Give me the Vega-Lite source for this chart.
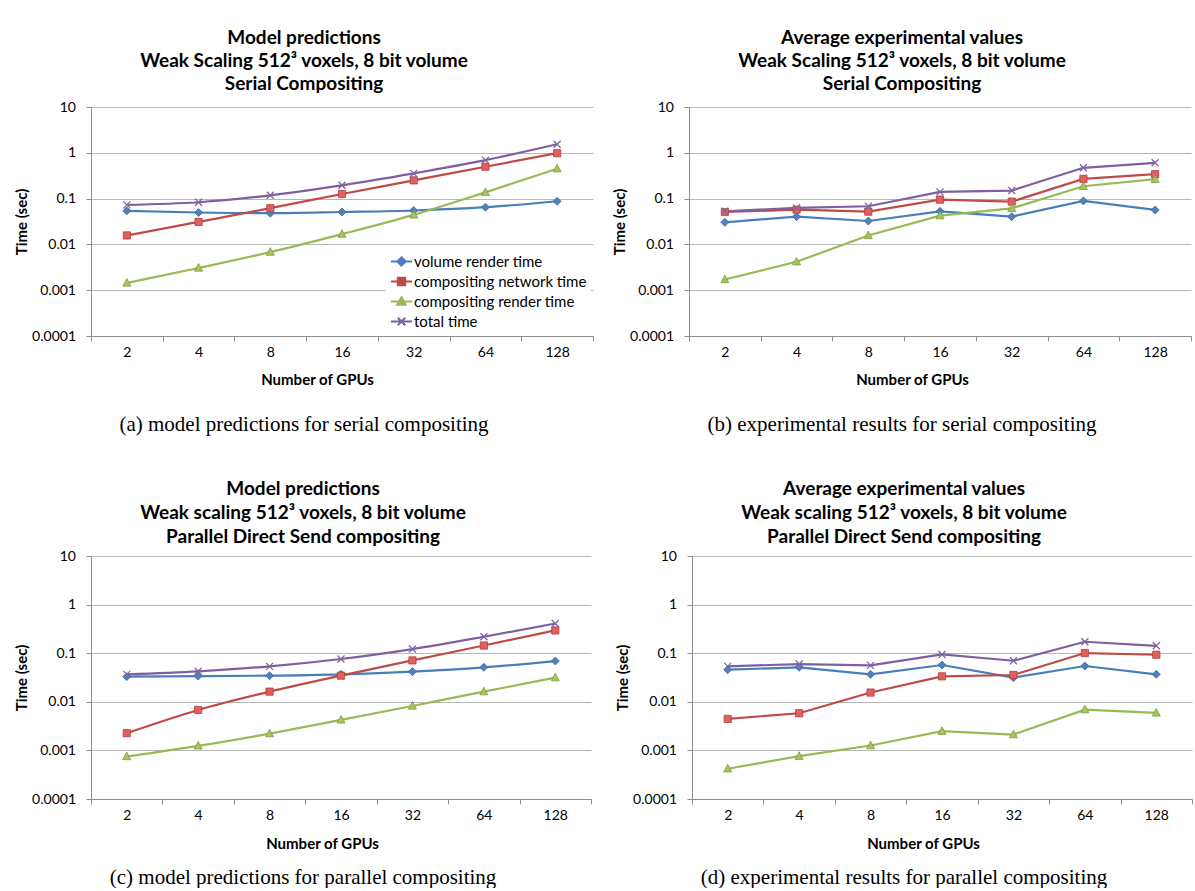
{
  "$schema": "https://vega.github.io/schema/vega-lite/v6.json",
  "padding": {"left": 14, "top": 29, "right": 0, "bottom": 0},
  "background": "white",
  "config": {
    "font": "Lato",
    "view": {"stroke": null},
    "axis": {"labelFont": "Lato", "labelFontSize": 14, "labelColor": "#000000", "titleFont": "Lato", "titleFontSize": 15, "titleFontWeight": "bold", "titleColor": "#000000", "domainColor": "#8c8c8c", "tickColor": "#8c8c8c", "gridColor": "#b8b8b8", "tickSize": 5},
    "axisX": {"tickBand": "extent", "labelAngle": 0, "grid": false, "labelPadding": 4, "titlePadding": 13},
    "axisY": {"grid": true, "labelPadding": 10.5, "titlePadding": 2},
    "legend": {"orient": "bottom-right", "offset": 2, "padding": 4, "fillColor": "white", "labelFont": "Lato", "labelFontSize": 15, "labelColor": "#000000", "labelLimit": 400, "rowPadding": 0, "symbolSize": 441, "symbolStrokeWidth": 2, "labelOffset": 1}
  },
  "datasets": {
    "a": [
      {"gpus": 2, "volume render time": 0.054, "compositing network time": 0.0157, "compositing render time": 0.00144, "total time": 0.0728},
      {"gpus": 4, "volume render time": 0.0497, "compositing network time": 0.031, "compositing render time": 0.00306, "total time": 0.0832},
      {"gpus": 8, "volume render time": 0.048, "compositing network time": 0.0617, "compositing render time": 0.0068, "total time": 0.118},
      {"gpus": 16, "volume render time": 0.051, "compositing network time": 0.126, "compositing render time": 0.0168, "total time": 0.195},
      {"gpus": 32, "volume render time": 0.055, "compositing network time": 0.25, "compositing render time": 0.0442, "total time": 0.356},
      {"gpus": 64, "volume render time": 0.065, "compositing network time": 0.497, "compositing render time": 0.137, "total time": 0.693},
      {"gpus": 128, "volume render time": 0.0875, "compositing network time": 0.98, "compositing render time": 0.449, "total time": 1.54}
    ],
    "b": [
      {"gpus": 2, "volume render time": 0.0303, "compositing network time": 0.051, "compositing render time": 0.00171, "total time": 0.0528},
      {"gpus": 4, "volume render time": 0.0404, "compositing network time": 0.0574, "compositing render time": 0.00417, "total time": 0.0625},
      {"gpus": 8, "volume render time": 0.0324, "compositing network time": 0.0519, "compositing render time": 0.0157, "total time": 0.068},
      {"gpus": 16, "volume render time": 0.0528, "compositing network time": 0.095, "compositing render time": 0.0425, "total time": 0.14},
      {"gpus": 32, "volume render time": 0.0404, "compositing network time": 0.086, "compositing render time": 0.0614, "total time": 0.15},
      {"gpus": 64, "volume render time": 0.089, "compositing network time": 0.27, "compositing render time": 0.186, "total time": 0.47},
      {"gpus": 128, "volume render time": 0.0565, "compositing network time": 0.341, "compositing render time": 0.265, "total time": 0.604}
    ],
    "c": [
      {"gpus": 2, "volume render time": 0.0329, "compositing network time": 0.00226, "compositing render time": 0.00075, "total time": 0.0367},
      {"gpus": 4, "volume render time": 0.0338, "compositing network time": 0.0068, "compositing render time": 0.00124, "total time": 0.0424},
      {"gpus": 8, "volume render time": 0.0345, "compositing network time": 0.0162, "compositing render time": 0.00222, "total time": 0.0536},
      {"gpus": 16, "volume render time": 0.0367, "compositing network time": 0.0345, "compositing render time": 0.00424, "total time": 0.0759},
      {"gpus": 32, "volume render time": 0.0417, "compositing network time": 0.0711, "compositing render time": 0.0082, "total time": 0.1216},
      {"gpus": 64, "volume render time": 0.0511, "compositing network time": 0.144, "compositing render time": 0.0162, "total time": 0.218},
      {"gpus": 128, "volume render time": 0.069, "compositing network time": 0.294, "compositing render time": 0.0314, "total time": 0.408}
    ],
    "d": [
      {"gpus": 2, "volume render time": 0.0458, "compositing network time": 0.00445, "compositing render time": 0.00042, "total time": 0.0536},
      {"gpus": 4, "volume render time": 0.0512, "compositing network time": 0.00582, "compositing render time": 0.00076, "total time": 0.0598},
      {"gpus": 8, "volume render time": 0.0367, "compositing network time": 0.0155, "compositing render time": 0.00126, "total time": 0.0562},
      {"gpus": 16, "volume render time": 0.0571, "compositing network time": 0.0334, "compositing render time": 0.00248, "total time": 0.0944},
      {"gpus": 32, "volume render time": 0.0314, "compositing network time": 0.0356, "compositing render time": 0.00212, "total time": 0.07},
      {"gpus": 64, "volume render time": 0.0545, "compositing network time": 0.1007, "compositing render time": 0.00691, "total time": 0.172},
      {"gpus": 128, "volume render time": 0.0367, "compositing network time": 0.093, "compositing render time": 0.00591, "total time": 0.142}
    ]
  },
  "spacing": 45,
  "vconcat": [
    {
      "spacing": 18,
      "hconcat": [
        {
          "title": {"text": "(a) model predictions for serial compositing", "orient": "bottom", "anchor": "middle", "font": "Liberation Serif", "fontSize": 21, "fontWeight": "normal", "color": "#000000", "offset": 27},
          "vconcat": [
            {
              "width": 502, "height": 229,
              "title": {"text": ["Model predictions", "Weak Scaling 512³ voxels, 8 bit volume", "Serial Compositing"], "anchor": "middle", "font": "Lato", "fontSize": 19, "fontWeight": "bold", "color": "#000000", "lineHeight": 23, "offset": 6, "frame": "bounds"},
              "data": {"name": "a"},
              "transform": [{"fold": ["volume render time", "compositing network time", "compositing render time", "total time"], "as": ["series", "time"]}],
              "encoding": {
                "x": {"field": "gpus", "type": "ordinal", "bandPosition": 0.5, "title": "Number of GPUs", "scale": {"type": "band", "paddingInner": 0, "paddingOuter": 0}, "axis": {"titleX": 226, "titlePadding": 13}},
                "y": {"field": "time", "type": "quantitative", "title": "Time (sec)", "scale": {"type": "log", "domain": [0.0001, 10], "nice": false}, "axis": {"values": [0.0001, 0.001, 0.01, 0.1, 1, 10], "format": "~g"}}
              },
              "resolve": {"legend": {"color": "independent", "stroke": "independent", "shape": "independent"}},
              "layer": [
                {"mark": {"type": "line", "strokeWidth": 2.2, "interpolate": "monotone"}, "encoding": {"color": {"field": "series", "type": "nominal", "scale": {"domain": ["volume render time", "compositing network time", "compositing render time", "total time"], "range": ["#4a7ebb", "#be4b48", "#98b954", "#7d60a0"]}, "legend": null}}},
                {"transform": [{"filter": "datum.series === 'volume render time'"}], "mark": {"type": "point", "shape": "M0,-1L1,0L0,1L-1,0Z", "filled": true, "fill": "#4f81bd", "stroke": "#3c6aa3", "strokeWidth": 0.8, "size": 64, "opacity": 1}},
                {"transform": [{"filter": "datum.series === 'compositing network time'"}], "mark": {"type": "point", "shape": "M-1,-1H1V1H-1Z", "filled": true, "fill": "#e06060", "stroke": "#b53c3a", "strokeWidth": 0.8, "size": 52, "opacity": 1}},
                {"transform": [{"filter": "datum.series === 'compositing render time'"}], "mark": {"type": "point", "shape": "M0,-1.1L1,0.8H-1Z", "filled": true, "fill": "#a5c65f", "stroke": "#7f9c3f", "strokeWidth": 0.8, "size": 64, "opacity": 1}},
                {"transform": [{"filter": "datum.series === 'total time'"}], "mark": {"type": "point", "shape": "M-1,-1L1,1M-1,1L1,-1", "filled": true, "fill": "transparent", "stroke": "#8064a2", "strokeWidth": 1.3, "size": 49, "opacity": 1}},
                {"transform": [{"filter": "false"}], "mark": {"type": "point", "filled": true, "opacity": 1, "strokeWidth": 2, "size": 441},
                 "encoding": {
                   "color": {"field": "series", "type": "nominal", "scale": {"domain": ["volume render time", "compositing network time", "compositing render time", "total time"], "range": ["#4a7ebb", "#be4b48", "#98b954", "#7d60a0"]}, "legend": {"title": null}},
                   "stroke": {"field": "series", "type": "nominal", "scale": {"domain": ["volume render time", "compositing network time", "compositing render time", "total time"], "range": ["#4a7ebb", "#be4b48", "#98b954", "#7d60a0"]}, "legend": {"title": null}},
                   "shape": {"field": "series", "type": "nominal", "scale": {"domain": ["volume render time", "compositing network time", "compositing render time", "total time"], "range": ["M-1,0H1M0,-0.4L0.4,0L0,0.4L-0.4,0Z", "M-1,0H1M-0.35,-0.35H0.35V0.35H-0.35Z", "M-1,0H1M0,-0.4L0.4,0.3H-0.4Z", "M-1,0H1M-0.35,-0.35L0.35,0.35M-0.35,0.35L0.35,-0.35"]}, "legend": {"title": null}}
                 }}
              ]
            }
          ]
        },
        {
          "title": {"text": "(b) experimental results for serial compositing", "orient": "bottom", "anchor": "middle", "font": "Liberation Serif", "fontSize": 21, "fontWeight": "normal", "color": "#000000", "offset": 27},
          "vconcat": [
            {
              "width": 502, "height": 229,
              "title": {"text": ["Average experimental values", "Weak Scaling 512³ voxels, 8 bit volume", "Serial Compositing"], "anchor": "middle", "font": "Lato", "fontSize": 19, "fontWeight": "bold", "color": "#000000", "lineHeight": 23, "offset": 6, "frame": "bounds"},
              "data": {"name": "b"},
              "transform": [{"fold": ["volume render time", "compositing network time", "compositing render time", "total time"], "as": ["series", "time"]}],
              "encoding": {
                "x": {"field": "gpus", "type": "ordinal", "bandPosition": 0.5, "title": "Number of GPUs", "scale": {"type": "band", "paddingInner": 0, "paddingOuter": 0}, "axis": {"titleX": 223, "titlePadding": 13}},
                "y": {"field": "time", "type": "quantitative", "title": "Time (sec)", "scale": {"type": "log", "domain": [0.0001, 10], "nice": false}, "axis": {"values": [0.0001, 0.001, 0.01, 0.1, 1, 10], "format": "~g"}}
              },
              "layer": [
                {"mark": {"type": "line", "strokeWidth": 2.2}, "encoding": {"color": {"field": "series", "type": "nominal", "scale": {"domain": ["volume render time", "compositing network time", "compositing render time", "total time"], "range": ["#4a7ebb", "#be4b48", "#98b954", "#7d60a0"]}, "legend": null}}},
                {"transform": [{"filter": "datum.series === 'volume render time'"}], "mark": {"type": "point", "shape": "M0,-1L1,0L0,1L-1,0Z", "filled": true, "fill": "#4f81bd", "stroke": "#3c6aa3", "strokeWidth": 0.8, "size": 64, "opacity": 1}},
                {"transform": [{"filter": "datum.series === 'compositing network time'"}], "mark": {"type": "point", "shape": "M-1,-1H1V1H-1Z", "filled": true, "fill": "#e06060", "stroke": "#b53c3a", "strokeWidth": 0.8, "size": 52, "opacity": 1}},
                {"transform": [{"filter": "datum.series === 'compositing render time'"}], "mark": {"type": "point", "shape": "M0,-1.1L1,0.8H-1Z", "filled": true, "fill": "#a5c65f", "stroke": "#7f9c3f", "strokeWidth": 0.8, "size": 64, "opacity": 1}},
                {"transform": [{"filter": "datum.series === 'total time'"}], "mark": {"type": "point", "shape": "M-1,-1L1,1M-1,1L1,-1", "filled": true, "fill": "transparent", "stroke": "#8064a2", "strokeWidth": 1.3, "size": 49, "opacity": 1}}
              ]
            }
          ]
        }
      ]
    },
    {
      "spacing": 23,
      "hconcat": [
        {
          "title": {"text": "(c) model predictions for parallel compositing", "orient": "bottom", "anchor": "middle", "font": "Liberation Serif", "fontSize": 21, "fontWeight": "normal", "color": "#000000", "offset": 16},
          "vconcat": [
            {
              "width": 500, "height": 243,
              "title": {"text": ["Model predictions", "Weak scaling 512³ voxels, 8 bit volume", "Parallel Direct Send compositing"], "anchor": "middle", "font": "Lato", "fontSize": 19, "fontWeight": "bold", "color": "#000000", "lineHeight": 24, "offset": 2, "frame": "bounds"},
              "data": {"name": "c"},
              "transform": [{"fold": ["volume render time", "compositing network time", "compositing render time", "total time"], "as": ["series", "time"]}],
              "encoding": {
                "x": {"field": "gpus", "type": "ordinal", "bandPosition": 0.5, "title": "Number of GPUs", "scale": {"type": "band", "paddingInner": 0, "paddingOuter": 0}, "axis": {"titleX": 231, "titlePadding": 14}},
                "y": {"field": "time", "type": "quantitative", "title": "Time (sec)", "scale": {"type": "log", "domain": [0.0001, 10], "nice": false}, "axis": {"values": [0.0001, 0.001, 0.01, 0.1, 1, 10], "format": "~g"}}
              },
              "layer": [
                {"mark": {"type": "line", "strokeWidth": 2.2, "interpolate": "monotone"}, "encoding": {"color": {"field": "series", "type": "nominal", "scale": {"domain": ["volume render time", "compositing network time", "compositing render time", "total time"], "range": ["#4a7ebb", "#be4b48", "#98b954", "#7d60a0"]}, "legend": null}}},
                {"transform": [{"filter": "datum.series === 'volume render time'"}], "mark": {"type": "point", "shape": "M0,-1L1,0L0,1L-1,0Z", "filled": true, "fill": "#4f81bd", "stroke": "#3c6aa3", "strokeWidth": 0.8, "size": 64, "opacity": 1}},
                {"transform": [{"filter": "datum.series === 'compositing network time'"}], "mark": {"type": "point", "shape": "M-1,-1H1V1H-1Z", "filled": true, "fill": "#e06060", "stroke": "#b53c3a", "strokeWidth": 0.8, "size": 52, "opacity": 1}},
                {"transform": [{"filter": "datum.series === 'compositing render time'"}], "mark": {"type": "point", "shape": "M0,-1.1L1,0.8H-1Z", "filled": true, "fill": "#a5c65f", "stroke": "#7f9c3f", "strokeWidth": 0.8, "size": 64, "opacity": 1}},
                {"transform": [{"filter": "datum.series === 'total time'"}], "mark": {"type": "point", "shape": "M-1,-1L1,1M-1,1L1,-1", "filled": true, "fill": "transparent", "stroke": "#8064a2", "strokeWidth": 1.3, "size": 49, "opacity": 1}}
              ]
            }
          ]
        },
        {
          "title": {"text": "(d) experimental results for parallel compositing", "orient": "bottom", "anchor": "middle", "font": "Liberation Serif", "fontSize": 21, "fontWeight": "normal", "color": "#000000", "offset": 16},
          "vconcat": [
            {
              "width": 500, "height": 243,
              "title": {"text": ["Average experimental values", "Weak scaling 512³ voxels, 8 bit volume", "Parallel Direct Send compositing"], "anchor": "middle", "font": "Lato", "fontSize": 19, "fontWeight": "bold", "color": "#000000", "lineHeight": 24, "offset": 2, "frame": "bounds"},
              "data": {"name": "d"},
              "transform": [{"fold": ["volume render time", "compositing network time", "compositing render time", "total time"], "as": ["series", "time"]}],
              "encoding": {
                "x": {"field": "gpus", "type": "ordinal", "bandPosition": 0.5, "title": "Number of GPUs", "scale": {"type": "band", "paddingInner": 0, "paddingOuter": 0}, "axis": {"titleX": 231, "titlePadding": 14}},
                "y": {"field": "time", "type": "quantitative", "title": "Time (sec)", "scale": {"type": "log", "domain": [0.0001, 10], "nice": false}, "axis": {"values": [0.0001, 0.001, 0.01, 0.1, 1, 10], "format": "~g"}}
              },
              "layer": [
                {"mark": {"type": "line", "strokeWidth": 2.2}, "encoding": {"color": {"field": "series", "type": "nominal", "scale": {"domain": ["volume render time", "compositing network time", "compositing render time", "total time"], "range": ["#4a7ebb", "#be4b48", "#98b954", "#7d60a0"]}, "legend": null}}},
                {"transform": [{"filter": "datum.series === 'volume render time'"}], "mark": {"type": "point", "shape": "M0,-1L1,0L0,1L-1,0Z", "filled": true, "fill": "#4f81bd", "stroke": "#3c6aa3", "strokeWidth": 0.8, "size": 64, "opacity": 1}},
                {"transform": [{"filter": "datum.series === 'compositing network time'"}], "mark": {"type": "point", "shape": "M-1,-1H1V1H-1Z", "filled": true, "fill": "#e06060", "stroke": "#b53c3a", "strokeWidth": 0.8, "size": 52, "opacity": 1}},
                {"transform": [{"filter": "datum.series === 'compositing render time'"}], "mark": {"type": "point", "shape": "M0,-1.1L1,0.8H-1Z", "filled": true, "fill": "#a5c65f", "stroke": "#7f9c3f", "strokeWidth": 0.8, "size": 64, "opacity": 1}},
                {"transform": [{"filter": "datum.series === 'total time'"}], "mark": {"type": "point", "shape": "M-1,-1L1,1M-1,1L1,-1", "filled": true, "fill": "transparent", "stroke": "#8064a2", "strokeWidth": 1.3, "size": 49, "opacity": 1}}
              ]
            }
          ]
        }
      ]
    }
  ]
}
